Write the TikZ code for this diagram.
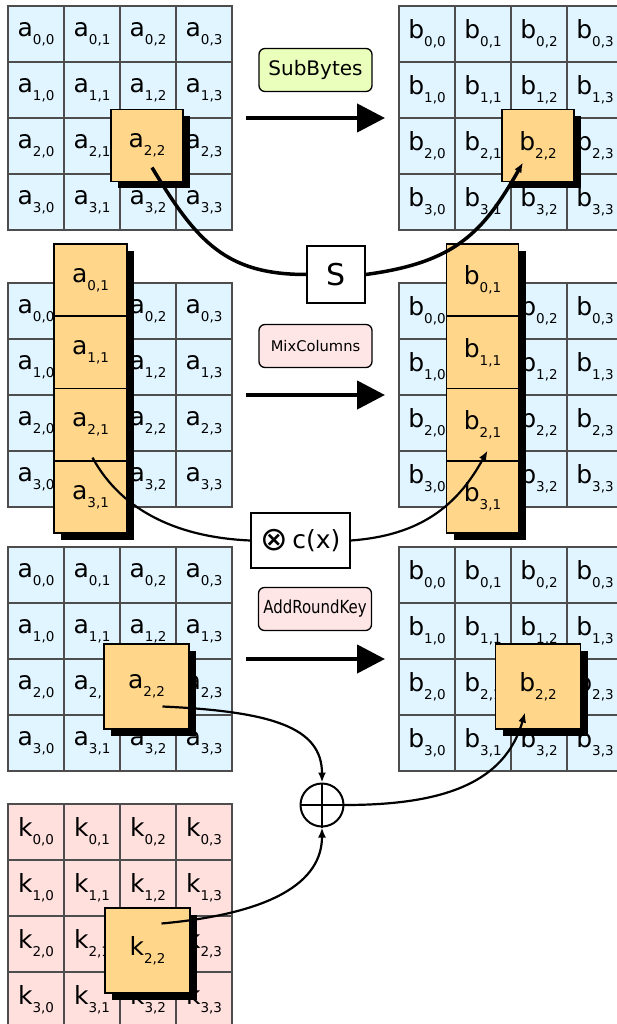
\documentclass[tikz,border=0pt]{standalone}
\usepackage{fontspec}
\setmainfont{DejaVu Sans}
\newfontfamily\narrowfont[FakeStretch=0.83]{DejaVu Sans}
\newfontfamily\thinfont{DejaVu Sans}
\usetikzlibrary{arrows.meta,shadows}

\definecolor{cellblue}{HTML}{E0F5FF}
\definecolor{cellpink}{HTML}{FFE0DD}
\definecolor{chosenfill}{HTML}{FFD68A}
\definecolor{greenlabel}{HTML}{EAFFBB}
\definecolor{pinklabel}{HTML}{FFE6E6}
\definecolor{gridline}{HTML}{4D4D4D}

\newcommand{\ent}[2]{#1\raisebox{-8pt}{\fontsize{13.5}{13.5}\selectfont #2}}

\tikzset{
  cell/.style={draw=gridline, line width=1.1pt, fill=cellblue, minimum size=56pt,
    inner sep=0pt, outer sep=0pt, font=\fontsize{25}{25}\selectfont},
  keycell/.style={cell, fill=cellpink},
  chosen/.style={draw=black, line width=1.6pt, fill=chosenfill, inner sep=0pt, outer sep=0pt,
    font=\fontsize{25}{25}\selectfont,
    drop shadow={shadow xshift=7pt, shadow yshift=-7pt, fill=black, opacity=1}},
  oplabel/.style={draw, line width=1.3pt, rounded corners=6pt, minimum width=113pt,
    minimum height=43pt, inner sep=0pt},
  opbox/.style={draw, line width=1.3pt, fill=white, inner sep=0pt},
  bigarrow/.style={line width=4.5pt, -{Triangle[length=28pt, width=28pt]},
    shorten <=14pt, shorten >=14pt},
  curveline/.style={line width=2.2pt},
  curvearrow/.style={curveline, -{Latex[length=10pt, width=8pt]}},
}

\begin{document}
\begin{tikzpicture}[x=1pt, y=-1pt]
\clip (0,0) rectangle (617,1024);

\foreach \r in {0,...,3}
  \foreach \c in {0,...,3} {
    \node[cell] (sa-\r-\c) at ({36+56*\c},{34+56*\r}) {\ent{a}{\r,\c}};
    \node[cell] (sb-\r-\c) at ({427+56*\c},{34+56*\r}) {\ent{b}{\r,\c}};
    \node[cell] (ma-\r-\c) at ({36+56*\c},{311+56*\r}) {\ent{a}{\r,\c}};
    \node[cell] (mb-\r-\c) at ({427+56*\c},{311+56*\r}) {\ent{b}{\r,\c}};
    \node[cell] (aa-\r-\c) at ({36+56*\c},{575+56*\r}) {\ent{a}{\r,\c}};
    \node[cell] (ab-\r-\c) at ({427+56*\c},{575+56*\r}) {\ent{b}{\r,\c}};
    \node[keycell] (k-\r-\c) at ({36+56*\c},{832+56*\r}) {\ent{k}{\r,\c}};
  }

\node[chosen, minimum size=72pt] (sapick) at (147,145.5) {\ent{a}{2,2}};
\node[chosen, minimum size=72pt] (sbpick) at (538,145.5) {\ent{b}{2,2}};
\foreach \r/\y in {0/280.1,1/352.4,2/424.6,3/496.9} {
  \node[chosen, minimum width=73pt, minimum height=72.25pt] (mapick-\r) at (90.5,\y) {\ent{a}{\r,1}};
  \node[chosen, minimum width=72pt, minimum height=72.25pt] (mbpick-\r) at (482.5,\y) {\ent{b}{\r,1}};
}
\node[chosen, minimum size=85pt] (aapick) at (146.5,686.5) {\ent{a}{2,2}};
\node[chosen, minimum size=85pt] (abpick) at (538,686.5) {\ent{b}{2,2}};
\node[chosen, minimum size=85pt] (kpick) at (147.5,950.5) {\ent{k}{2,2}};

\node[oplabel, fill=greenlabel, font=\fontsize{20}{20}\selectfont] (subbytes) at (315.5,70) {SubBytes};
\node[oplabel, fill=pinklabel, font=\fontsize{14.7}{15}\selectfont] (mixcolumns) at (315.5,346) {MixColumns};
\node[oplabel, fill=pinklabel, font=\narrowfont\fontsize{18}{18}\selectfont] (addroundkey) at (315,609) {AddRoundKey};

\draw[bigarrow] (sa-1-3.south east) -- (sb-1-0.south west);
\draw[bigarrow] (ma-1-3.south east) -- (mb-1-0.south west);
\draw[bigarrow] (aa-1-3.south east) -- (ab-1-0.south west);

\node[opbox, minimum width=58pt, minimum height=57pt, font=\fontsize{30}{30}\selectfont] (sbox) at (336,274.5) {S};
\node[opbox, minimum width=99pt, minimum height=55pt, font=\fontsize{25}{25}\selectfont] (cx) at (300.5,540.5)
  {\raisebox{-2pt}{\fontsize{33}{33}\selectfont ⊗}\,c(x)};
\node[draw, circle, line width=2pt, minimum size=43pt, inner sep=0pt] (xor) at (322,805) {};
\draw[line width=2pt] (xor.north) -- (xor.south) (xor.west) -- (xor.east);

\coordinate (s-src) at ([shift={(5,22)}]sapick.center);
\coordinate (s-dst) at ([shift={(-15,17)}]sbpick.center);
\draw[curveline, line width=3.5pt] (s-src) .. controls +(45,75) and +(-80,0) .. (sbox.west);
\draw[curvearrow, line width=3.5pt] (sbox.east) .. controls +(90,-12) and +(-40,70) .. (s-dst);

\coordinate (m-src) at ([shift={(2,33)}]mapick-2.center);
\coordinate (m-dst) at ([shift={(5,26)}]mbpick-2.center);
\draw[curveline] (m-src) .. controls +(30,55) and +(-70,-3) .. (cx.west);
\draw[curvearrow] (cx.east) .. controls +(70,-5) and +(-30,55) .. (m-dst);

\coordinate (a-src) at ([shift={(16,20)}]aapick.center);
\coordinate (k-src) at ([shift={(14,-27)}]kpick.center);
\coordinate (b-dst) at ([shift={(-13,26)}]abpick.center);
\draw[curvearrow] (a-src) .. controls +(110,5) and +(0,-55) .. (xor.north);
\draw[curvearrow] (k-src) .. controls +(110,-10) and +(0,55) .. (xor.south);
\draw[curvearrow] (xor.east) .. controls +(100,0) and +(-20,70) .. (b-dst);
\end{tikzpicture}
\end{document}
